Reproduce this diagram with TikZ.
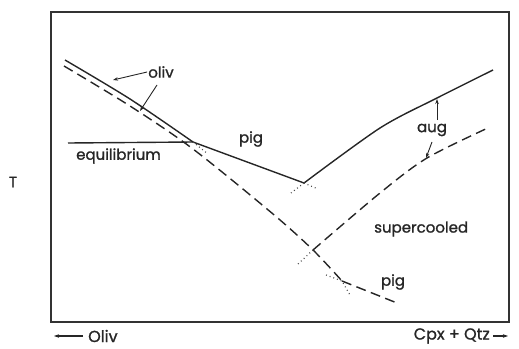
\documentclass[tikz,border=0pt]{standalone}
\usepackage{fontspec}
\setmainfont{Poppins}
\newfontfamily\lblfont[FakeBold=1.2]{Poppins}
\usetikzlibrary{arrows.meta}
\begin{document}
\begin{tikzpicture}[x=1pt,y=-1pt,
  frame/.style={line width=1.5pt, black!80},
  curve/.style={line width=1.4pt, black!85},
  dcurve/.style={curve, dash pattern=on 10pt off 5.5pt},
  dotline/.style={line width=1.2pt, dash pattern=on 0.9pt off 3pt, black!70},
  lbl/.style={font=\lblfont\fontsize{15}{17}\selectfont, inner sep=1pt, text=black!85},
  axl/.style={font=\lblfont\fontsize{16}{18}\selectfont, inner sep=1pt, text=black!85},
  ptr/.style={line width=0.9pt, black!85, -{Stealth[length=5pt,width=3.5pt]}}]
\useasboundingbox (0,0) rectangle (519,348);
% frame
\coordinate (f1) at (51,12);
\coordinate (f2) at (509,322);
\draw[frame] (f1) rectangle (f2);
% key points
\coordinate (S0) at (65,60);
\coordinate (J) at (193,142);
\coordinate (V) at (304,183);
\coordinate (E) at (493,70);
\coordinate (Q0) at (68,143);
\coordinate (D0) at (64,66);
\coordinate (X) at (313,250);
\coordinate (B) at (342,281);
\coordinate (P1) at (397,303);
\coordinate (U1) at (490,127);
% solid curves
\draw[curve] plot[smooth] coordinates {(S0) (130,99) (J)};
\draw[curve] (J) -- (V);
\draw[curve] plot[smooth] coordinates {(V) (380,128) (437,98) (E)};
\draw[curve] (Q0) -- (J);
% dashed curves
\draw[dcurve] plot[smooth] coordinates {(D0) (130,106) (193,149) (273,214) (X) (B)};
\draw[dcurve] (B) -- (P1);
\draw[dcurve] plot[smooth] coordinates {(X) (380,193) (427,158) (U1)};
% dotted extensions
\coordinate (j2) at (208,154);
\coordinate (v1) at (318,189);
\coordinate (v2) at (291,193);
\coordinate (x2) at (297,265);
\coordinate (b1) at (326,275);
\coordinate (b2) at (350,295);
\draw[dotline] (J) -- (j2);
\draw[dotline] (V) -- (v1);
\draw[dotline] (V) -- (v2);
\draw[dotline] (X) -- (x2);
\draw[dotline] (b1) -- (B) -- (b2);
% labels
\node[lbl] (oliv) at (161,72) {oliv};
\node[lbl] (pig1) at (251,139) {pig};
\node[lbl, anchor=west] (eq) at (75,156) {equilibrium};
\node[lbl] (aug) at (432,130) {aug};
\node[lbl, anchor=west] (sc) at (373,229) {supercooled};
\node[lbl] (pig2) at (393,282) {pig};
\node[lbl] (T) at (13,182) {T};
% label pointers
\coordinate (o1) at (113,80);
\coordinate (o2) at (140,111);
\coordinate (a0) at (437,120);
\coordinate (a1) at (437,99);
\coordinate (a3) at (432,142);
\coordinate (a2) at (426,158);
\draw[ptr] (oliv.west) -- (o1);
\draw[ptr] (157,85) -- (o2);
\draw[ptr] (a0) -- (a1);
\draw[ptr] (a3) -- (a2);
% axis labels
\node[axl, anchor=west] (ol) at (87,336) {Oliv};
\node[axl, anchor=east] (cq) at (491,336) {Cpx + Qtz};
\coordinate (al) at (54,336);
\coordinate (ar) at (508,336);
\draw[ptr, line width=1.2pt] (ol.west) ++(-4,0) -- (al);
\draw[ptr, line width=1.2pt] (cq.east) ++(2,0) -- (ar);
\end{tikzpicture}
\end{document}
